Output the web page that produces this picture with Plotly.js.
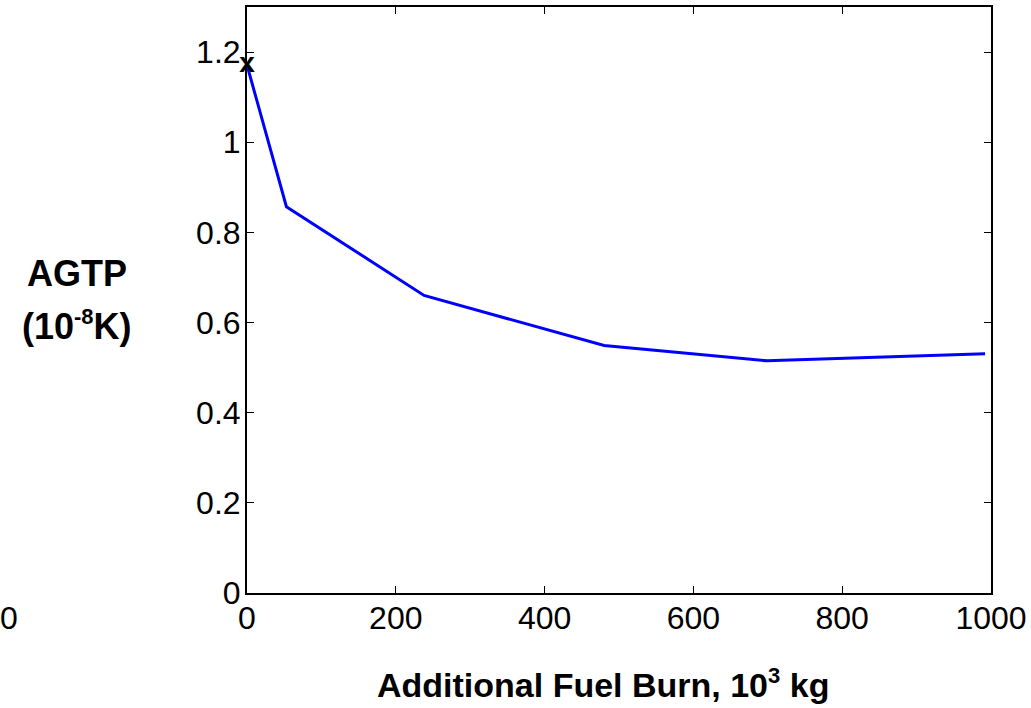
<!DOCTYPE html>
<html>
<head>
<meta charset="utf-8">
<script src="https://cdn.plot.ly/plotly-3.0.1.min.js"></script>
<style>
  html, body { margin: 0; padding: 0; background: #ffffff; }
  #chart { width: 1031px; height: 708px; }
</style>
</head>
<body>
<div id="chart"></div>
<script>
// Additional fuel burn (10^3 kg) against AGTP (10^-8 K)
const fuelBurn = [0, 53, 238, 480, 699, 992];
const agtp = [1.171, 0.857, 0.660, 0.549, 0.515, 0.531];

const xTicks = [0, 200, 400, 600, 800, 1000];
const xTickText = ['0', '200', '400', '600', '800', '1000'];
const yTicks = [0, 0.2, 0.4, 0.6, 0.8, 1.0, 1.2];
const yTickText = ['0', '0.2', '0.4', '0.6', '0.8', '1', '1.2'];

const FONT = 'Liberation Sans, Arial, Helvetica, sans-serif';

const curve = {
  x: fuelBurn,
  y: agtp,
  type: 'scatter',
  mode: 'lines',
  line: { color: '#0000ff', width: 3 },
  hoverinfo: 'x+y',
  showlegend: false
};

// "x" label marking the starting point of the curve
const startMark = {
  x: [fuelBurn[0]],
  y: [agtp[0]],
  type: 'scatter',
  mode: 'text',
  text: ['<b>x</b>'],
  textposition: 'middle center',
  textfont: { family: FONT, size: 28, color: '#000000' },
  cliponaxis: false,
  hoverinfo: 'skip',
  showlegend: false
};

const layout = {
  width: 1031,
  height: 708,
  margin: { l: 247, r: 40, t: 7, b: 115, pad: 0 },
  paper_bgcolor: '#ffffff',
  plot_bgcolor: '#ffffff',
  font: { family: FONT, color: '#000000' },
  showlegend: false,
  xaxis: {
    range: [0, 1000],
    tickvals: xTicks,
    ticktext: xTickText,
    ticks: 'inside',
    ticklen: 7,
    tickwidth: 1,
    tickcolor: '#000000',
    showline: true,
    linecolor: '#000000',
    linewidth: 2,
    mirror: 'ticks',
    showgrid: false,
    zeroline: false,
    tickfont: { family: FONT, size: 32, color: '#000000' },
    ticklabelstandoff: -4
  },
  yaxis: {
    range: [0, 1.3],
    tickvals: yTicks,
    ticktext: yTickText,
    ticks: 'inside',
    ticklen: 7,
    tickwidth: 1,
    tickcolor: '#000000',
    showline: true,
    linecolor: '#000000',
    linewidth: 2,
    mirror: 'ticks',
    showgrid: false,
    zeroline: false,
    tickfont: { family: FONT, size: 32, color: '#000000' },
    ticklabelstandoff: -2
  },
  annotations: [
    {
      text: '<b>AGTP</b>',
      xref: 'paper', yref: 'paper',
      x: -0.2285, y: 0.545,
      xanchor: 'center', yanchor: 'middle',
      showarrow: false,
      font: { family: FONT, size: 36, color: '#000000' }
    },
    {
      text: '<b>(10<sup><span style="font-size:22px">-8</span></sup>K)</b>',
      xref: 'paper', yref: 'paper',
      x: -0.2285, y: 0.456,
      xanchor: 'center', yanchor: 'middle',
      showarrow: false,
      font: { family: FONT, size: 36, color: '#000000' }
    },
    {
      text: '<b>Additional Fuel Burn, 10<sup><span style="font-size:22px">3</span></sup> kg</b>',
      xref: 'paper', yref: 'paper',
      x: 0.478, y: -0.155,
      xanchor: 'center', yanchor: 'middle',
      showarrow: false,
      font: { family: FONT, size: 34, color: '#000000' }
    },
    {
      text: '0',
      xref: 'paper', yref: 'paper',
      x: -0.32, y: -0.0435,
      xanchor: 'center', yanchor: 'middle',
      showarrow: false,
      font: { family: FONT, size: 32, color: '#000000' }
    }
  ]
};

Plotly.newPlot('chart', [curve, startMark], layout, { displayModeBar: false, staticPlot: true });
</script>
</body>
</html>
